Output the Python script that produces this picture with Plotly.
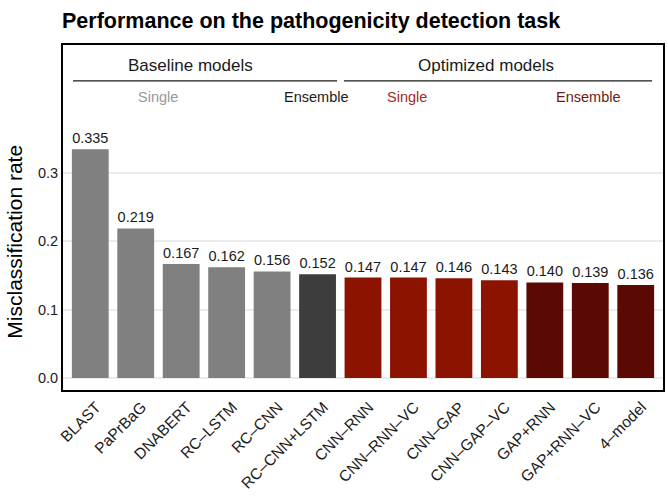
import plotly.graph_objects as go

models = ["BLAST", "PaPrBaG", "DNABERT", "RC–LSTM", "RC–CNN", "RC–CNN+LSTM",
          "CNN–RNN", "CNN–RNN–VC", "CNN–GAP", "CNN–GAP–VC",
          "GAP+RNN", "GAP+RNN–VC", "4–model"]
rates = [0.335, 0.219, 0.167, 0.162, 0.156, 0.152,
         0.147, 0.147, 0.146, 0.143, 0.140, 0.139, 0.136]
groups = ["base_single"] * 5 + ["base_ens"] + ["opt_single"] * 4 + ["opt_ens"] * 3

group_colors = {
    "base_single": "#808080",
    "base_ens": "#3d3d3d",
    "opt_single": "#8b1300",
    "opt_ens": "#5a0a02",
}
y_ticks = [0.0, 0.1, 0.2, 0.3]
y_ticktext = ["0.0", "0.1", "0.2", "0.3"]

FONT = "Liberation Sans, Arial, sans-serif"

fig = go.Figure()
fig.add_trace(go.Bar(
    x=list(range(len(models))),
    y=rates,
    marker=dict(color=[group_colors[g] for g in groups], line=dict(width=0)),
    text=[f"{v:.3f}" for v in rates],
    textposition="outside",
    textfont=dict(family=FONT, size=14.5, color="#1a1a1a"),
    cliponaxis=False,
    width=0.81,
))

# group header annotations
hdr = [
    ("Baseline models", 2.2, 0.458, 17, "#1a1a1a"),
    ("Optimized models", 8.7, 0.458, 17, "#1a1a1a"),
    ("Single", 1.48, 0.411, 14.5, "#999999"),
    ("Ensemble", 4.97, 0.411, 14.5, "#1a1a1a"),
    ("Single", 6.96, 0.411, 14.5, "#a52a22"),
    ("Ensemble", 10.95, 0.411, 14.5, "#6e1a14"),
]
for txt, x, y, s, c in hdr:
    fig.add_annotation(x=x, y=y, xref="x", yref="y", text=txt, showarrow=False,
                       font=dict(family=FONT, size=s, color=c))

for x0, x1 in [(-0.38, 5.43), (5.58, 12.36)]:
    fig.add_shape(type="line", xref="x", yref="y", x0=x0, x1=x1, y0=0.435, y1=0.435,
                  line=dict(color="#1a1a1a", width=1.2))

# y-axis title
fig.add_annotation(text="Misclassification rate", xref="paper", yref="paper",
                   x=-0.08, y=0.43, textangle=-90, showarrow=False,
                   xanchor="center", yanchor="middle",
                   font=dict(family=FONT, size=21, color="#000000"))

fig.update_layout(
    width=668, height=504,
    margin=dict(l=63, r=3, t=45, b=114),
    paper_bgcolor="white", plot_bgcolor="white",
    showlegend=False,
    title=dict(text="<b>Performance on the pathogenicity detection task</b>",
               x=62 / 668, xanchor="left", y=0.96, yanchor="middle",
               font=dict(family=FONT, size=21.5, color="#000000")),
    xaxis=dict(
        tickmode="array", tickvals=list(range(len(models))), ticktext=models,
        range=[-0.6, 12.6], tickangle=-45,
        tickfont=dict(family=FONT, size=15.5, color="#1a1a1a"),
        ticklabelshift=6,
        showgrid=False, zeroline=False,
        showline=True, linecolor="black", linewidth=2, mirror=True,
        ticks="",
    ),
    yaxis=dict(
        tickmode="array", tickvals=y_ticks, ticktext=y_ticktext,
        range=[-0.0176, 0.4876],
        tickfont=dict(family=FONT, size=14.5, color="#1a1a1a"),
        showgrid=True, gridcolor="#ebebeb", gridwidth=1.8,
        zeroline=False,
        showline=True, linecolor="black", linewidth=2, mirror=True,
        ticks="",
    ),
    bargap=0.19,
)

fig.write_html("out.html")
